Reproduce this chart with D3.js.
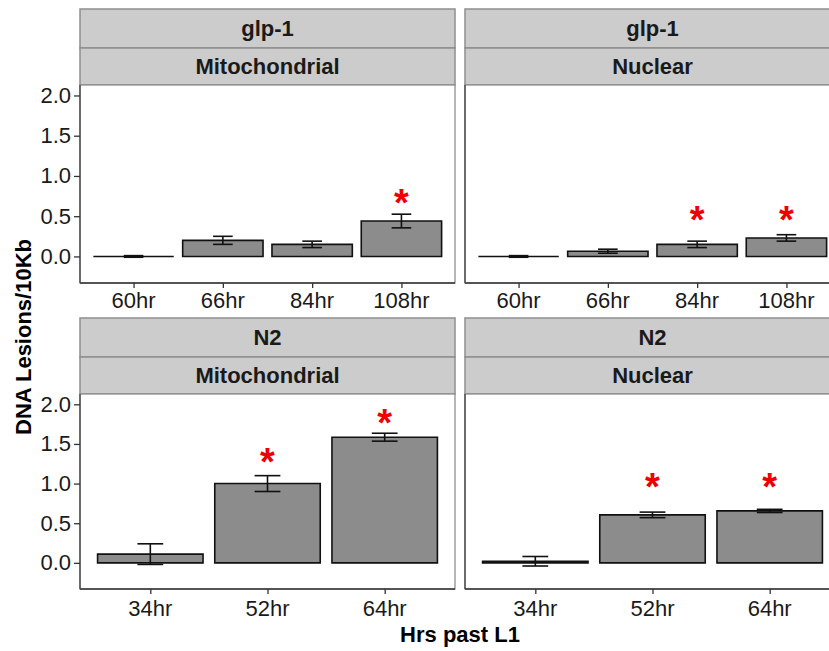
<!DOCTYPE html>
<html>
<head>
<meta charset="utf-8">
<script src="https://cdn.jsdelivr.net/npm/d3@7"></script>
<style>
  html, body { margin: 0; padding: 0; background: #ffffff; }
  svg { display: block; }
  text { font-family: "Liberation Sans", Arial, sans-serif; }
</style>
</head>
<body>
<svg id="chart" width="829" height="651"></svg>
<script>
// ---------------- data ----------------
const timesGlp = ["60hr", "66hr", "84hr", "108hr"];
const timesN2 = ["34hr", "52hr", "64hr"];

const glpMitoMean = [0.00, 0.20, 0.15, 0.44];
const glpMitoErr  = [0.01, 0.05, 0.04, 0.085];
const glpMitoStar = [null, null, null, 0.78];

const glpNucMean = [0.00, 0.065, 0.15, 0.23];
const glpNucErr  = [0.01, 0.025, 0.04, 0.04];
const glpNucStar = [null, null, 0.57, 0.57];

const n2MitoMean = [0.11, 1.00, 1.585];
const n2MitoErr  = [0.13, 0.10, 0.05];
const n2MitoStar = [null, 1.39, 1.876];

const n2NucMean = [0.02, 0.605, 0.655];
const n2NucErr  = [0.06, 0.035, 0.02];
const n2NucStar = [null, 1.07, 1.07];

const yTicks = [0.0, 0.5, 1.0, 1.5, 2.0];
const stripTop = ["glp-1", "glp-1", "N2", "N2"];
const stripBottom = ["Mitochondrial", "Nuclear", "Mitochondrial", "Nuclear"];
const yTitle = "DNA Lesions/10Kb";
const xTitle = "Hrs past L1";

// ---------------- layout ----------------
const svg = d3.select("#chart");
const font = "Liberation Sans, Arial, sans-serif";
const cols = [{x0: 80, x1: 455}, {x0: 465, x1: 840}];
const rows = [
  {s0: 9, s1: 48, s2: 85, p1: 283, tickLab: 308},
  {s0: 318, s1: 357, s2: 394, p1: 589, tickLab: 616}
];
const yDomain = [-0.33, 2.13];

const panels = [
  {r: 0, c: 0, cats: timesGlp, mean: glpMitoMean, err: glpMitoErr, star: glpMitoStar},
  {r: 0, c: 1, cats: timesGlp, mean: glpNucMean, err: glpNucErr, star: glpNucStar},
  {r: 1, c: 0, cats: timesN2, mean: n2MitoMean, err: n2MitoErr, star: n2MitoStar},
  {r: 1, c: 1, cats: timesN2, mean: n2NucMean, err: n2NucErr, star: n2NucStar}
];

panels.forEach((p, i) => {
  const col = cols[p.c], row = rows[p.r];
  const g = svg.append("g");
  const n = p.cats.length;
  const unit = (col.x1 - col.x0) / (n - 1 + 1.2);
  const x = d3.scalePoint().domain(p.cats).range([col.x0 + 0.6 * unit, col.x1 - 0.6 * unit]);
  const y = d3.scaleLinear().domain(yDomain).range([row.p1, row.s2]);
  const barW = 0.9 * unit, capW = 0.22 * unit;

  // strips
  [[row.s0, row.s1, stripTop[i]], [row.s1, row.s2, stripBottom[i]]].forEach(([a, b, t]) => {
    g.append("rect").attr("x", col.x0).attr("y", a).attr("width", col.x1 - col.x0).attr("height", b - a)
      .attr("fill", "#cccccc").attr("stroke", "#8f8f8f").attr("stroke-width", 1.5);
    g.append("text").attr("x", (col.x0 + col.x1) / 2).attr("y", (a + b) / 2 + 7.5)
      .attr("text-anchor", "middle").attr("font-size", 22).attr("font-weight", "bold")
      .attr("fill", "#1a1a1a").text(t);
  });

  // panel
  g.append("rect").attr("x", col.x0).attr("y", row.s2).attr("width", col.x1 - col.x0).attr("height", row.p1 - row.s2)
    .attr("fill", "#ffffff").attr("stroke", "#8f8f8f").attr("stroke-width", 1.3);

  const data = p.cats.map((c, j) => ({c, m: p.mean[j], e: p.err[j], s: p.star[j]}));

  // bars (as paths so zero-height bars still show their outline)
  g.selectAll(".bar").data(data).join("path")
    .attr("d", d => {
      const xl = x(d.c) - barW / 2, xr = x(d.c) + barW / 2, y0 = y(0), y1 = y(d.m);
      return `M${xl},${y0}H${xr}V${y1}H${xl}Z`;
    })
    .attr("fill", "#8c8c8c").attr("stroke", "#111").attr("stroke-width", 1.6);

  // error bars
  data.forEach(d => {
    const cx = x(d.c), yt = y(d.m + d.e), yb = y(d.m - d.e);
    g.append("line").attr("x1", cx).attr("x2", cx).attr("y1", yt).attr("y2", yb).attr("stroke", "#111").attr("stroke-width", 1.6);
    [yt, yb].forEach(yy => g.append("line").attr("x1", cx - capW / 2).attr("x2", cx + capW / 2)
      .attr("y1", yy).attr("y2", yy).attr("stroke", "#111").attr("stroke-width", 1.6));
    if (d.s != null) {
      const fs = 38;
      g.append("text").attr("x", cx).attr("y", y(d.s) + 0.58 * fs)
        .attr("text-anchor", "middle").attr("font-size", fs).attr("font-weight", "bold")
        .attr("fill", "#ee0000").text("*");
    }
  });

  // axes
  const xa = g.append("g").attr("transform", `translate(0,${row.p1})`)
    .call(d3.axisBottom(x).tickSize(5).tickPadding(4).tickSizeOuter(0));
  xa.select(".domain").attr("stroke", "#333").attr("stroke-width", 1.5).attr("d", `M${col.x0},0H${col.x1}`);
  xa.selectAll(".tick line").attr("stroke", "#333").attr("stroke-width", 1.3);
  xa.selectAll(".tick text").remove();
  p.cats.forEach(c => g.append("text").attr("x", x(c)).attr("y", row.tickLab)
    .attr("text-anchor", "middle").attr("font-size", 22).attr("fill", "#1a1a1a").text(c));

  // left axis line
  g.append("line").attr("x1", col.x0).attr("x2", col.x0).attr("y1", row.s2).attr("y2", row.p1)
    .attr("stroke", "#444").attr("stroke-width", 1.3);

  if (p.c === 0) {
    const ya = g.append("g").attr("transform", `translate(${col.x0},0)`)
      .call(d3.axisLeft(y).tickValues(yTicks).tickFormat(d3.format(".1f")).tickSize(6).tickPadding(3));
    ya.select(".domain").remove();
    ya.selectAll(".tick line").attr("stroke", "#333").attr("stroke-width", 1.3);
    ya.selectAll(".tick text").attr("font-size", 22).attr("fill", "#1a1a1a").attr("font-family", font);
  }
});

// axis titles
svg.append("text").attr("transform", "translate(31,337) rotate(-90)")
  .attr("text-anchor", "middle").attr("font-size", 22).attr("font-weight", "bold").attr("fill", "#000").text(yTitle);
svg.append("text").attr("x", 460).attr("y", 642)
  .attr("text-anchor", "middle").attr("font-size", 22).attr("font-weight", "bold").attr("fill", "#000").text(xTitle);
</script>
</body>
</html>
